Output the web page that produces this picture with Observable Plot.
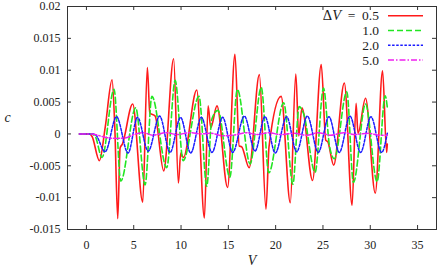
<!DOCTYPE html>
<html>
<head>
<meta charset="utf-8">
<script src="https://cdn.jsdelivr.net/npm/d3@7"></script>
<script src="https://cdn.jsdelivr.net/npm/@observablehq/plot@0.6"></script>
<style>
  html, body { margin: 0; padding: 0; background: #fff; }
</style>
</head>
<body>
<div id="chart"></div>
<script>
// ---- data ----
const seriesNames = ["0.5", "1.0", "2.0", "5.0"];

const vRed = [-0.74, 0.3, 0.6, 1.37, 2.0, 2.71, 3.0, 3.31, 3.56, 3.8, 4.89, 5.95, 6.44, 6.7, 7.26, 8.17, 9.22, 9.72, 9.97, 10.25, 11.66, 12.47, 12.86, 13.14, 13.8, 14.92, 15.7, 16.15, 16.4, 17.2, 18.28, 18.98, 19.3, 20.58, 21.55, 22.13, 22.44, 22.78, 23.9, 24.82, 25.3, 25.5, 26.13, 27.26, 28.08, 28.5, 28.7, 29.5, 30.53, 31.3, 31.73, 31.8];
const cRed = [0, 0, -0.0004, -0.0042, 0.0012, 0.0085, 0.001, -0.0133, -0.0022, -0.0016, 0.0047, -0.0107, 0.0104, 0.0033, 0.0028, -0.0058, 0.0118, -0.0077, -0.0030, -0.0037, 0.0069, -0.0132, 0.0044, 0.0010, 0.0044, -0.0084, 0.0125, -0.0019, -0.0020, -0.0053, 0.0093, -0.0118, -0.0020, 0.0059, -0.0108, 0.0094, -0.0003, 0.0041, -0.0073, 0.0109, -0.0010, -0.0012, -0.0049, 0.0080, -0.0112, 0.0048, 0.0001, 0.0056, -0.0093, 0.0099, -0.0029, -0.0016];

const vGreen = [-0.74, 0.5, 0.9, 1.65, 2.92, 3.63, 5.21, 6.2, 6.92, 8.49, 9.38, 10.22, 11.9, 12.72, 13.25, 13.9, 15.16, 15.95, 17.3, 18.48, 19.27, 20.85, 21.82, 22.48, 22.95, 24.17, 25.06, 25.7, 26.2, 27.52, 28.22, 29.5, 30.72, 31.58, 31.8];
const cGreen = [0, 0, -0.0003, -0.0037, 0.0070, -0.0074, 0.0041, -0.0080, 0.0059, -0.0053, 0.0084, -0.0042, 0.0059, -0.0082, 0.0023, 0.0037, -0.0068, 0.0070, -0.0047, 0.0073, -0.0061, 0.0049, -0.0079, 0.0043, 0.0032, -0.0060, 0.0072, -0.0020, -0.0039, 0.0066, -0.0076, 0.0047, -0.0075, 0.0060, 0.0042];

const vBlue = [-0.74, 0.7, 1.0, 1.98, 3.18, 4.4, 5.4, 6.53, 7.74, 8.84, 9.95, 11.02, 12.15, 13.27, 14.4, 15.46, 16.69, 17.82, 18.87, 19.96, 21.16, 22.22, 23.35, 24.5, 25.63, 26.73, 27.85, 28.98, 30.07, 31.2, 31.8];
const cBlue = [0, 0, -0.0002, -0.0028, 0.0027, -0.0030, 0.0026, -0.0027, 0.0028, -0.0029, 0.0026, -0.0030, 0.0026, -0.0029, 0.0026, -0.0029, 0.0028, -0.0027, 0.0027, -0.0030, 0.0027, -0.0028, 0.0028, -0.0029, 0.0027, -0.0029, 0.0028, -0.0029, 0.0027, -0.0029, 0.0001];

const vMag = [-0.74, 0.6, 1.2, 2.2, 3.2, 4.2, 5.0, 6.0, 7.0, 8.4, 9.6, 10.9, 12.2, 13.2, 14.4, 15.5, 16.9, 18.0, 19.3, 20.5, 21.9, 23.3, 24.5, 25.8, 27.2, 28.4, 29.8, 31.0, 31.8];
const cMag = [0, 0, -0.0002, -0.0006, -0.0007, -0.0006, -0.0001, 0.0002, -0.0002, 0.0002, -0.0001, 0.0002, 0.0000, 0.0001, -0.0003, -0.0002, 0.0002, -0.0001, 0.0002, -0.0001, 0.0001, -0.0002, 0.0002, -0.0002, 0.0002, -0.0001, 0.0001, -0.0002, -0.0002];

const xTicks = [0, 5, 10, 15, 20, 25, 30, 35];
const xTickLabels = ["0", "5", "10", "15", "20", "25", "30", "35"];
const yTicks = [-0.015, -0.01, -0.005, 0, 0.005, 0.01, 0.015, 0.02];
const yTickLabels = ["-0.015", "-0.01", "-0.005", "0", "0.005", "0.01", "0.015", "0.02"];

// ---- build tables ----
const toRows = (vs, cs, s) => vs.map((v, i) => ({V: v, c: cs[i], s}));
const rows = [
  toRows(vRed, cRed, seriesNames[0]),
  toRows(vGreen, cGreen, seriesNames[1]),
  toRows(vBlue, cBlue, seriesNames[2]),
  toRows(vMag, cMag, seriesNames[3])
];

const styles = [
  {stroke: "#ff1a1a", dash: null, w: 1.6},
  {stroke: "#22e622", dash: "6,3", w: 1.6},
  {stroke: "#1a1aff", dash: "2.5,1.6", w: 1.5},
  {stroke: "#f020f0", dash: "6,2,1.5,2", w: 1.5}
];

const mTop = 6, mBottom = 40, mLeft = 67, mRight = 1;
const frameW = 437 - mLeft - mRight;
const frameH = 269 - mTop - mBottom;
const axisColor = "#333";
const font = "'Liberation Serif', 'DejaVu Serif', serif";

const chart = Plot.plot({
  width: 437,
  height: 269,
  marginLeft: mLeft,
  marginRight: mRight,
  marginTop: mTop,
  marginBottom: mBottom,
  style: {fontFamily: font, fontSize: "12px", background: "#fff", color: "#222"},
  x: {domain: [-2, 37]},
  y: {domain: [-0.015, 0.02]},
  marks: [
    ...rows.map((r, i) => Plot.line(r, {
      x: "V", y: "c", curve: "monotone-x",
      stroke: styles[i].stroke, strokeWidth: styles[i].w,
      strokeDasharray: styles[i].dash
    })),
    Plot.tickX(xTicks, {x: d => d, insetTop: frameH - 4, stroke: axisColor}),
    Plot.tickX(xTicks, {x: d => d, insetBottom: frameH - 4, stroke: axisColor}),
    Plot.tickY(yTicks, {y: d => d, insetRight: frameW - 4, stroke: axisColor}),
    Plot.tickY(yTicks, {y: d => d, insetLeft: frameW - 4, stroke: axisColor}),
    Plot.axisX({ticks: xTicks, tickSize: 0, tickPadding: 11, label: null,
      tickFormat: d => xTickLabels[xTicks.indexOf(d)]}),
    Plot.axisY({ticks: yTicks, tickSize: 0, tickPadding: 7, label: null,
      tickFormat: d => yTickLabels[yTicks.indexOf(d)]}),
    Plot.text(["V"], {frameAnchor: "bottom", dy: 35, fontStyle: "italic", fontSize: 14}),
    Plot.text(["c"], {frameAnchor: "left", dx: -63, dy: 0, fontStyle: "italic", fontSize: 14}),
    Plot.frame({stroke: axisColor, strokeWidth: 1})
  ]
});

// ---- legend (inside top-right of frame) ----
const svg = d3.select(chart);
const lg = svg.append("g")
  .attr("font-family", font)
  .attr("font-size", 13.5)
  .attr("fill", "#222");
const rowY = [15.7, 30.5, 45.3, 60];
seriesNames.forEach((name, i) => {
  const t = lg.append("text")
    .attr("x", 379).attr("y", rowY[i])
    .attr("text-anchor", "end")
    .attr("dy", "0.35em");
  if (i === 0) {
    t.append("tspan").attr("font-size", 14.5).text("Δ");
    t.append("tspan").attr("font-style", "italic").attr("font-size", 14.5).text("V");
    t.append("tspan").text("\u2002=\u2002" + name);
  } else {
    t.text(name);
  }
  lg.append("line")
    .attr("x1", 388).attr("x2", 423)
    .attr("y1", rowY[i]).attr("y2", rowY[i])
    .attr("stroke", styles[i].stroke)
    .attr("stroke-width", styles[i].w)
    .attr("stroke-dasharray", styles[i].dash);
});

document.getElementById("chart").appendChild(chart);
</script>
</body>
</html>
